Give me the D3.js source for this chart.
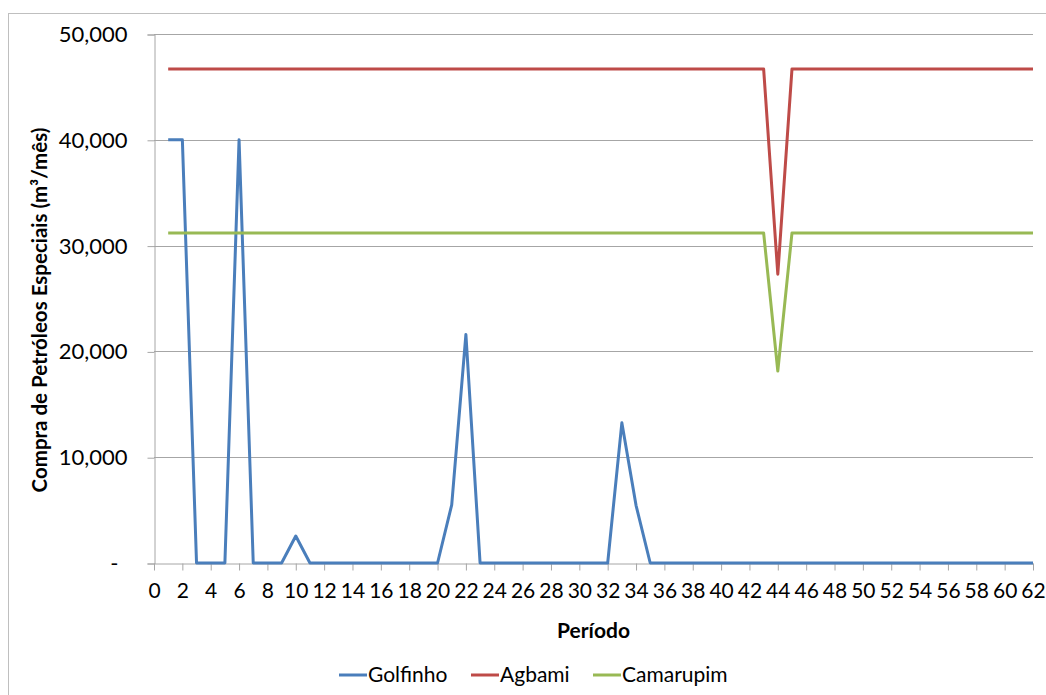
<!DOCTYPE html>
<html>
<head>
<meta charset="utf-8">
<script src="https://cdn.jsdelivr.net/npm/d3@7"></script>
<style>
  body { margin: 0; background: #fff; }
  text { font-family: Lato, "Liberation Sans", sans-serif; fill: #000; }
</style>
</head>
<body>
<script>
// periods 1..62
var periods = d3.range(1, 63);

// Golfinho: mostly zero with a few peaks
var golfinho = [40000, 40000, 0, 0, 0, 40000, 0, 0, 0, 2550,
  0, 0, 0, 0, 0, 0, 0, 0, 0, 0,
  5500, 21600, 0, 0, 0, 0, 0, 0, 0, 0,
  0, 0, 13250, 5450, 0, 0, 0, 0, 0, 0,
  0, 0, 0, 0, 0, 0, 0, 0, 0, 0,
  0, 0, 0, 0, 0, 0, 0, 0, 0, 0,
  0, 0];

// Agbami and Camarupim flat, one dip at period 44
var agbami = periods.map(function(p) { return p === 44 ? 27300 : 46700; });
var camarupim = periods.map(function(p) { return p === 44 ? 18150 : 31200; });

var seriesNames = ["Golfinho", "Agbami", "Camarupim"];
var seriesColors = ["#4a7ebb", "#be4b48", "#98b954"];
var seriesValues = [golfinho, agbami, camarupim];

var xTicks = d3.range(0, 63, 2);
var yTicks = [0, 10000, 20000, 30000, 40000, 50000];

var W = 1046, H = 695;
var margin = {top: 34, right: 13, bottom: 132, left: 154};

var svg = d3.select("body").append("svg")
  .attr("width", W)
  .attr("height", H);

// chart frame
svg.append("rect")
  .attr("x", 8.5).attr("y", 13.5)
  .attr("width", W + 10).attr("height", H + 10)
  .attr("fill", "none")
  .attr("stroke", "#bfbfbf")
  .attr("stroke-width", 1);

var xScale = d3.scaleLinear().domain([0, 62]).range([margin.left, W - margin.right]);
var yScale = d3.scaleLinear().domain([0, 50000]).range([H - margin.bottom, margin.top]);

// gridlines
svg.append("g")
  .selectAll("line")
  .data(yTicks.slice(1))
  .enter()
  .append("line")
  .attr("x1", xScale(0))
  .attr("x2", xScale(62))
  .attr("y1", function(d) { return Math.round(yScale(d)) + 0.5; })
  .attr("y2", function(d) { return Math.round(yScale(d)) + 0.5; })
  .attr("stroke", "#a6a6a6")
  .attr("stroke-width", 1);

// y axis
var yAxis = d3.axisLeft(yScale)
  .tickValues(yTicks)
  .tickSize(7)
  .tickPadding(20)
  .tickFormat(function(d) { return d === 0 ? "-" : d3.format(",")(d); });

var gy = svg.append("g")
  .attr("transform", "translate(" + (xScale(0) + 0.5) + ",0.5)")
  .call(yAxis);
gy.select(".domain").attr("stroke", "#a6a6a6");
gy.selectAll(".tick line").attr("stroke", "#a6a6a6");
gy.selectAll(".tick text")
  .style("font-size", "22px")
  .attr("dx", function(d) { return d === 0 ? -9 : 0; });

// x axis
var xAxis = d3.axisBottom(xScale)
  .tickValues(xTicks)
  .tickSize(7)
  .tickPadding(13)
  .tickSizeOuter(0);

var gx = svg.append("g")
  .attr("transform", "translate(0," + (Math.round(yScale(0)) + 0.5) + ")")
  .call(xAxis);
gx.select(".domain").attr("stroke", "#a6a6a6");
gx.selectAll(".tick line").attr("stroke", "#a6a6a6");
gx.selectAll(".tick text").style("font-size", "21px");

// lines
var line = d3.line()
  .x(function(d, i) { return xScale(periods[i]); })
  .y(function(d) { return yScale(d); });

seriesValues.forEach(function(vals, k) {
  svg.append("path")
    .datum(vals)
    .attr("fill", "none")
    .attr("stroke", seriesColors[k])
    .attr("stroke-width", 3)
    .attr("stroke-linejoin", "round")
    .attr("d", line);
});

// axis titles
svg.append("text")
  .attr("x", (xScale(0) + xScale(62)) / 2)
  .attr("y", 638)
  .attr("text-anchor", "middle")
  .style("font-size", "21px")
  .style("font-weight", "bold")
  .text("Período");

svg.append("text")
  .attr("transform", "translate(47,310) rotate(-90)")
  .attr("text-anchor", "middle")
  .style("font-size", "20.5px")
  .style("font-weight", "bold")
  .text("Compra de Petróleos Especiais (m³/mês)");

// legend
var legendX = [339, 471, 593];
var legend = svg.append("g");
seriesNames.forEach(function(name, k) {
  legend.append("line")
    .attr("x1", legendX[k]).attr("x2", legendX[k] + 28)
    .attr("y1", 675).attr("y2", 675)
    .attr("stroke", seriesColors[k])
    .attr("stroke-width", 3);
  legend.append("text")
    .attr("x", legendX[k] + 29)
    .attr("y", 682)
    .style("font-size", "21px")
    .text(name);
});
</script>
</body>
</html>
